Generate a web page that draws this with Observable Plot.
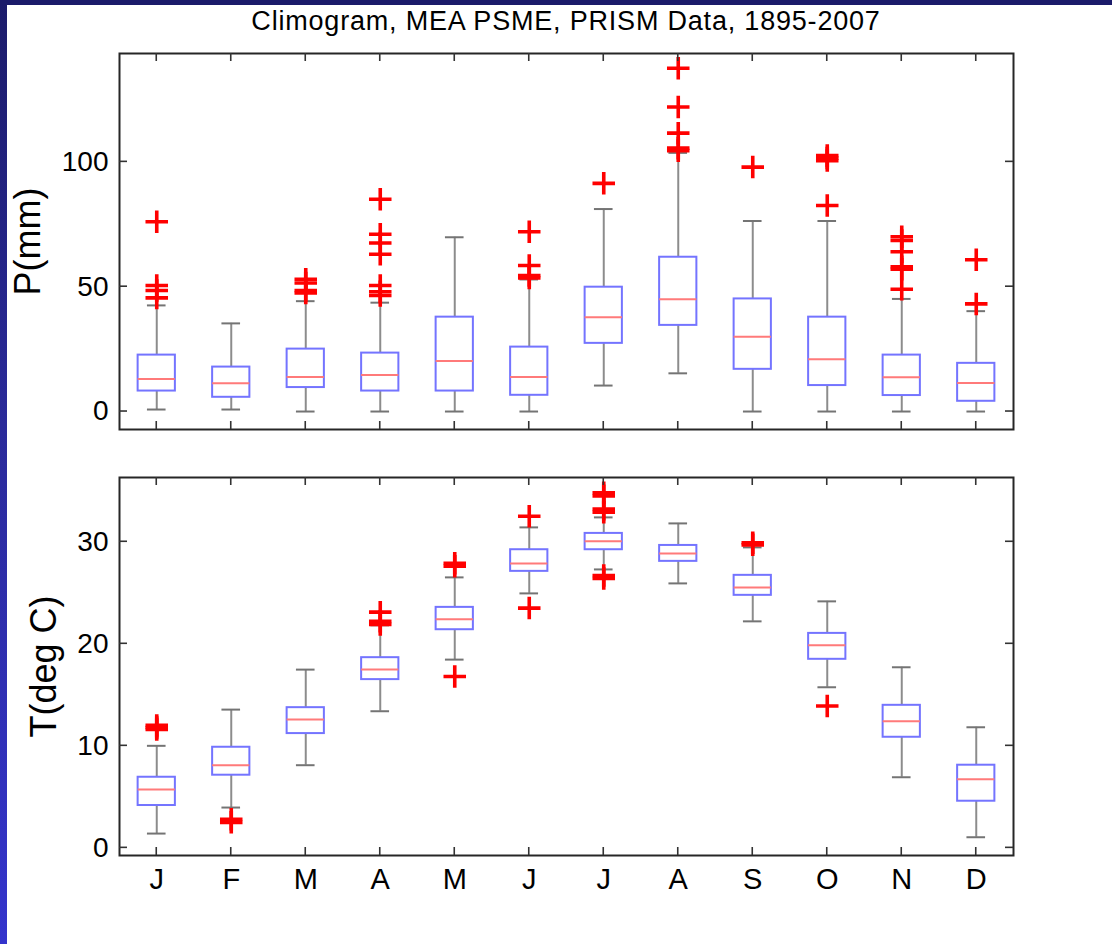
<!DOCTYPE html>
<html>
<head>
<meta charset="utf-8">
<script src="https://cdn.jsdelivr.net/npm/d3@7"></script>
<script src="https://cdn.jsdelivr.net/npm/@observablehq/plot@0.6"></script>
<style>
  html, body { margin: 0; padding: 0; background: #fff; overflow: hidden; }
  #wrap { position: relative; width: 1112px; height: 944px; overflow: hidden; background: #fff;
          font-family: "Liberation Sans", Arial, sans-serif; }
  #lbar { position: absolute; left: 0; top: 0; width: 7px; height: 944px;
          background: linear-gradient(#1b1b6a, #2a2a9a 45%, #3434cc); }
  #tbar { position: absolute; left: 0; top: 0; width: 1112px; height: 5px; background: #1b1b6a; }
  #title { position: absolute; left: 119px; width: 894px; top: 8px; text-align: center;
           font-size: 27px; line-height: 27px; letter-spacing: 0.8px; color: #000; }
  svg { position: absolute; left: 0; }
</style>
</head>
<body>
<div id="wrap">
  <div id="lbar"></div>
  <div id="tbar"></div>
  <div id="title">Climogram, MEA PSME, PRISM Data, 1895-2007</div>
</div>
<script>
// ---------- data ----------
const monthLabels = ["J","F","M","A","M","J","J","A","S","O","N","D"];
const monthNum = [1,2,3,4,5,6,7,8,9,10,11,12];

const precipTicks = [0, 50, 100];
const precipLow  = [0.8, 0.8, 0, 0, 0, 0, 10.4, 15.3, 0, 0, 0, 0];
const precipQ1   = [8.2, 5.7, 9.6, 8.2, 8.2, 6.5, 27.3, 34.5, 16.9, 10.4, 6.4, 4.1];
const precipMed  = [13.0, 11.3, 13.8, 14.6, 20.2, 13.8, 37.8, 45.0, 29.9, 20.9, 13.7, 11.4];
const precipQ3   = [22.6, 17.8, 25.0, 23.4, 37.8, 25.8, 49.8, 61.8, 45.1, 37.8, 22.6, 19.3];
const precipHigh = [42.5, 35.3, 44.2, 43.6, 69.8, 52.9, 81.1, 103.6, 76.3, 76.3, 45.1, 40.2];
const precipOutliers = [
  [1, [76, 50.5, 48.5, 45.5]],
  [3, [53, 51.5, 48.5, 47.5]],
  [4, [85, 71, 67.5, 63, 50.5, 48, 46.5]],
  [6, [72, 58.5, 54.5, 53.5]],
  [7, [91.4]],
  [8, [137.5, 122, 111.5, 105.5, 104.5]],
  [9, [97.9]],
  [10, [102.5, 101.5, 100.5, 82.5]],
  [11, [70, 68.5, 64, 58, 57, 49]],
  [12, [60.8, 43.1]]
];

const tempTicks = [0, 10, 20, 30];
const tempLow  = [1.4, 3.95, 8.1, 13.39, 18.45, 24.94, 27.29, 25.92, 22.2, 15.74, 6.92, 1.04];
const tempQ1   = [4.15, 7.12, 11.2, 16.49, 21.38, 27.1, 29.22, 28.08, 24.75, 18.48, 10.84, 4.57];
const tempMed  = [5.71, 8.10, 12.57, 17.47, 22.4, 27.88, 30.04, 28.86, 25.53, 19.85, 12.41, 6.73];
const tempQ3   = [6.92, 9.86, 13.74, 18.64, 23.57, 29.22, 30.82, 29.64, 26.71, 21.02, 13.97, 8.1];
const tempHigh = [10.0, 13.55, 17.47, 21.81, 26.51, 31.41, 32.39, 31.8, 29.45, 24.16, 17.7, 11.82];
const tempOutliers = [
  [1, [12.0, 11.8, 11.6]],
  [2, [2.8, 2.5]],
  [4, [23.1, 22.2, 21.9]],
  [5, [27.9, 27.6, 16.8]],
  [6, [32.5, 23.5]],
  [7, [34.8, 34.5, 33.2, 32.9, 26.7, 26.4]],
  [9, [29.9, 29.7]],
  [10, [13.9]]
];

// ---------- build tables ----------
function boxTable(low, q1, med, q3, high) {
  return monthNum.map((m, i) => ({m, low: low[i], q1: q1[i], med: med[i], q3: q3[i], high: high[i]}));
}
function outlierTable(list) {
  return list.flatMap(([m, vals]) => vals.map(v => ({m, v})));
}

const HALF = 0.25, CAP = 0.125;

function panel({box, out, yDomain, yTicks, label, labelDx, height, mt, mb, showX, top}) {
  const marks = [
    Plot.ruleX(box, {x: "m", y1: "low", y2: "q1", stroke: "#8c8c8c", strokeWidth: 2}),
    Plot.ruleX(box, {x: "m", y1: "q3", y2: "high", stroke: "#8c8c8c", strokeWidth: 2}),
    Plot.ruleY(box, {y: "low", x1: d => d.m - CAP, x2: d => d.m + CAP, stroke: "#747474", strokeWidth: 2}),
    Plot.ruleY(box, {y: "high", x1: d => d.m - CAP, x2: d => d.m + CAP, stroke: "#747474", strokeWidth: 2}),
    Plot.rect(box, {x1: d => d.m - HALF, x2: d => d.m + HALF, y1: "q1", y2: "q3", fill: "none", stroke: "#7474ff", strokeWidth: 2}),
    Plot.ruleY(box, {y: "med", x1: d => d.m - HALF, x2: d => d.m + HALF, stroke: "#ff7a7a", strokeWidth: 2}),
    Plot.dot(out, {x: "m", y: "v", symbol: "plus", r: 7.3, stroke: "#ff0000", strokeWidth: 3.6}),
    Plot.frame({stroke: "#262626", strokeWidth: 2}),
    Plot.axisY(yTicks, {tickSize: 0, tickPadding: 11, fontSize: 28, label: null, fill: "#000"}),
    Plot.text([label], {frameAnchor: "left", dx: labelDx, rotate: -90, fontSize: 36, lineAnchor: "bottom", textAnchor: "middle", fill: "#000"})
  ];
  if (showX) marks.push(Plot.axisX(monthNum, {tickSize: 0, tickPadding: 13, fontSize: 29, label: null, fill: "#000", tickFormat: i => monthLabels[i - 1]}));
  const svg = Plot.plot({
    width: 1112, height,
    marginLeft: 119, marginRight: 99, marginTop: mt, marginBottom: mb,
    x: showX ? {domain: [0.5, 12.5]} : {domain: [0.5, 12.5], axis: null},
    y: {domain: yDomain},
    style: {background: "transparent", fontFamily: "'Liberation Sans', Arial, sans-serif", overflow: "visible"},
    marks
  });
  // inward ticks on all four sides, positioned through the plot's own scales
  const sx = svg.scale("x"), sy = svg.scale("y");
  const [x0, x1] = sx.range, [yb, yt] = sy.range;
  const g = d3.select(svg).append("g").attr("stroke", "#333").attr("stroke-width", 1.6);
  const L = 8;
  for (const m of monthNum) {
    const px = sx.apply(m);
    g.append("line").attr("x1", px).attr("x2", px).attr("y1", yt).attr("y2", yt + L);
    g.append("line").attr("x1", px).attr("x2", px).attr("y1", yb).attr("y2", yb - L);
  }
  for (const t of yTicks) {
    const py = sy.apply(t);
    g.append("line").attr("x1", x0).attr("x2", x0 + L).attr("y1", py).attr("y2", py);
    g.append("line").attr("x1", x1).attr("x2", x1 - L).attr("y1", py).attr("y2", py);
  }
  svg.style.top = top + "px";
  document.getElementById("wrap").appendChild(svg);
}

panel({
  box: boxTable(precipLow, precipQ1, precipMed, precipQ3, precipHigh),
  out: outlierTable(precipOutliers),
  yDomain: [-7.2, 143.4], yTicks: precipTicks, label: "P(mm)", labelDx: -80,
  height: 440, mt: 53, mb: 11, showX: false, top: 0
});
panel({
  box: boxTable(tempLow, tempQ1, tempMed, tempQ3, tempHigh),
  out: outlierTable(tempOutliers),
  yDomain: [-0.75, 36.3], yTicks: tempTicks, label: "T(deg C)", labelDx: -64,
  height: 504, mt: 37, mb: 89, showX: true, top: 440
});
</script>
</body>
</html>
